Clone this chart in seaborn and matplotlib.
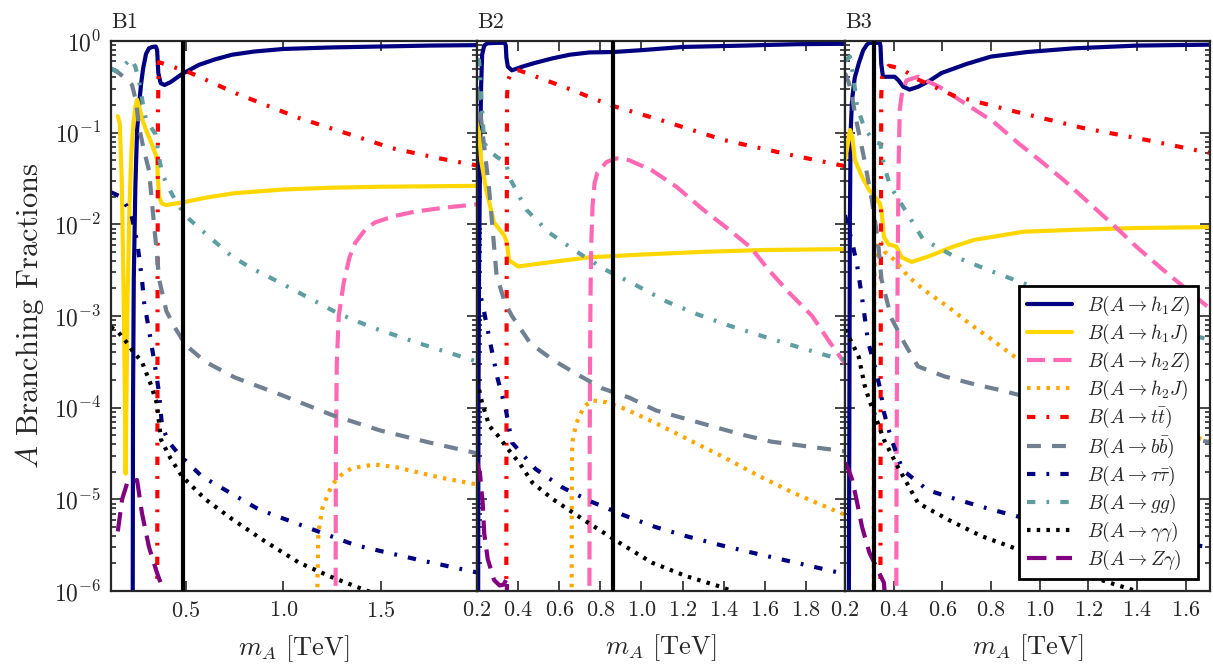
"""
Branching fractions of the pseudoscalar A for the three benchmarks B1, B2, B3
"""
import numpy as np
import matplotlib
matplotlib.use("Agg")
import matplotlib.pyplot as plt
from matplotlib.ticker import MultipleLocator, LogLocator, NullFormatter
import seaborn as sns

panels = ["B1", "B2", "B3"]
x_limits = [(0.115, 1.995), (0.2, 1.99), (0.2, 1.7)]
x_steps = [0.5, 0.2, 0.2]
benchmark_mass = [0.485, 0.863, 0.318]  # black vertical line in each panel

# Curves: (m_A [TeV], log10 of branching fraction)
# ---- B1 ----
b1_h1z = [(0.226, -7), (0.228, -4), (0.232, -2.6), (0.24, -1.6), (0.249, -0.97), (0.26, -0.68),
          (0.27, -0.46), (0.28, -0.3), (0.295, -0.14), (0.31, -0.08), (0.326, -0.065), (0.345, -0.06),
          (0.352, -0.1), (0.358, -0.35), (0.37, -0.46), (0.39, -0.48), (0.42, -0.45), (0.48, -0.36),
          (0.567, -0.26), (0.65, -0.2), (0.736, -0.15), (0.85, -0.115), (1.0, -0.087), (1.25, -0.07),
          (1.5, -0.06), (1.75, -0.05), (2.0, -0.045)]
b1_h1j = [(0.15, -0.82), (0.16, -0.9), (0.17, -1.5), (0.178, -2.5), (0.185, -3.6), (0.19, -4.72),
          (0.195, -3.8), (0.2, -2.8), (0.21, -1.8), (0.22, -1.2), (0.23, -0.9), (0.24, -0.72),
          (0.249, -0.64), (0.26, -0.72), (0.275, -0.85), (0.295, -0.97), (0.32, -1.1), (0.345, -1.24),
          (0.352, -1.3), (0.356, -1.5), (0.362, -1.7), (0.375, -1.77), (0.397, -1.79), (0.44, -1.775),
          (0.485, -1.76), (0.6, -1.71), (0.75, -1.66), (1.0, -1.62), (1.25, -1.6), (1.5, -1.59),
          (1.75, -1.585), (2.0, -1.58)]
b1_h2z = [(1.268, -7), (1.27, -4.5), (1.275, -3.5), (1.285, -3.0), (1.31, -2.64), (1.34, -2.36),
          (1.37, -2.2), (1.42, -2.06), (1.47, -1.98), (1.57, -1.91), (1.68, -1.86), (1.82, -1.82),
          (2.0, -1.78)]
b1_h2j = [(1.172, -7), (1.175, -6), (1.18, -5.37), (1.2, -5.1), (1.25, -4.84), (1.3, -4.73),
          (1.35, -4.66), (1.47, -4.62), (1.58, -4.65), (1.68, -4.7), (1.8, -4.76), (2.0, -4.84)]
b1_tt = [(0.352, -7), (0.354, -3), (0.356, -0.8), (0.36, -0.23), (0.515, -0.34), (0.756, -0.57),
         (1.08, -0.84), (1.3, -0.99), (1.56, -1.17), (1.8, -1.28), (2.0, -1.36)]
b1_bb = [(0.115, -0.3), (0.156, -0.35), (0.2, -0.43), (0.223, -0.48), (0.244, -0.66), (0.259, -0.94),
         (0.285, -1.2), (0.31, -1.41), (0.336, -2.0), (0.35, -2.3), (0.362, -2.6), (0.4, -2.95),
         (0.45, -3.15), (0.5, -3.32), (0.6, -3.5), (0.75, -3.67), (1.0, -3.87), (1.25, -4.08),
         (1.5, -4.25), (1.75, -4.38), (2.0, -4.5)]
b1_tautau = [(0.115, -1.65), (0.167, -1.7), (0.218, -1.88), (0.25, -2.2), (0.274, -2.6), (0.285, -2.85),
             (0.31, -3.15), (0.336, -3.48), (0.362, -3.84), (0.377, -4.2), (0.41, -4.37), (0.464, -4.51),
             (0.582, -4.75), (0.874, -5.11), (1.115, -5.3), (1.37, -5.5), (1.695, -5.66), (2.0, -5.8)]
b1_gg = [(0.115, -0.3), (0.156, -0.34), (0.19, -0.25), (0.218, -0.19), (0.24, -0.28), (0.26, -0.45),
         (0.28, -0.7), (0.295, -0.86), (0.345, -1.02), (0.36, -1.25), (0.377, -1.44), (0.41, -1.6),
         (0.454, -1.77), (0.505, -1.92), (0.567, -2.04), (0.736, -2.35), (0.838, -2.48), (0.987, -2.64),
         (1.28, -2.97), (1.45, -3.12), (1.7, -3.3), (2.0, -3.5)]
b1_gamgam = [(0.115, -3.12), (0.15, -3.17), (0.2, -3.3), (0.225, -3.38), (0.274, -3.5), (0.32, -3.75),
             (0.35, -3.95), (0.372, -4.35), (0.42, -4.55), (0.48, -4.75), (0.6, -5.0), (0.74, -5.22),
             (0.9, -5.45), (1.08, -5.69), (1.25, -5.85), (1.42, -5.99), (1.6, -6.12)]
b1_zgam = [(0.15, -5.35), (0.172, -5.0), (0.2, -4.81), (0.249, -4.79), (0.274, -5.15), (0.31, -5.52),
           (0.351, -5.8), (0.38, -5.97), (0.4, -6.1)]

# ---- B2 ----
b2_h1z = [(0.205, -7), (0.207, -4), (0.21, -2.5), (0.215, -1.2), (0.22, -0.5), (0.225, -0.15),
          (0.235, -0.05), (0.25, -0.025), (0.3, -0.02), (0.335, -0.02), (0.34, -0.05), (0.343, -0.18),
          (0.35, -0.28), (0.37, -0.32), (0.42, -0.28), (0.48, -0.24), (0.566, -0.19), (0.65, -0.15),
          (0.746, -0.125), (0.863, -0.12), (1.0, -0.1), (1.2, -0.065), (1.5, -0.05), (1.75, -0.035),
          (2.0, -0.03)]
b2_h1j = [(0.2, -0.9), (0.21, -1.0), (0.22, -1.3), (0.244, -1.62), (0.283, -1.98), (0.332, -2.12),
          (0.346, -2.2), (0.355, -2.39), (0.4, -2.46), (0.566, -2.41), (0.746, -2.36), (1.0, -2.33),
          (1.3, -2.3), (1.6, -2.28), (2.0, -2.27)]
b2_h2z = [(0.746, -7), (0.748, -4.5), (0.75, -3.5), (0.752, -2.8), (0.756, -2.2), (0.762, -1.8),
          (0.772, -1.55), (0.785, -1.44), (0.83, -1.32), (0.878, -1.28), (0.94, -1.3), (1.05, -1.41),
          (1.17, -1.59), (1.3, -1.84), (1.41, -2.03), (1.53, -2.25), (1.62, -2.5), (1.72, -2.75),
          (1.83, -3.0), (1.92, -3.3), (2.0, -3.55)]
b2_h2j = [(0.66, -7), (0.661, -5), (0.663, -4.38), (0.683, -4.17), (0.72, -3.99), (0.76, -3.92),
          (0.83, -3.94), (0.927, -4.02), (1.07, -4.17), (1.23, -4.35), (1.4, -4.54), (1.575, -4.75),
          (1.74, -4.93), (2.0, -5.18)]
b2_tt = [(0.342, -7), (0.344, -3), (0.346, -0.6), (0.352, -0.42), (0.37, -0.33), (0.405, -0.32),
         (0.488, -0.39), (0.634, -0.51), (0.78, -0.64), (0.863, -0.71), (1.09, -0.86), (1.4, -1.08),
         (1.72, -1.24), (2.0, -1.37)]
b2_bb = [(0.2, -0.5), (0.21, -0.65), (0.225, -0.95), (0.26, -1.64), (0.295, -2.55), (0.335, -2.85),
         (0.37, -3.0), (0.46, -3.3), (0.57, -3.48), (0.69, -3.64), (0.81, -3.79), (0.94, -3.89),
         (1.07, -4.03), (1.37, -4.22), (1.5, -4.3), (1.63, -4.37), (1.9, -4.45), (2.0, -4.48)]
b2_tautau = [(0.2, -2.6), (0.235, -2.96), (0.265, -3.3), (0.3, -3.68), (0.34, -4.02), (0.37, -4.38),
             (0.485, -4.67), (0.615, -4.87), (0.75, -5.02), (0.91, -5.17), (1.065, -5.3), (1.215, -5.4),
             (1.385, -5.5), (1.535, -5.58), (1.69, -5.66), (1.865, -5.75), (2.0, -5.82)]
b2_gg = [(0.2, -0.2), (0.21, -0.21), (0.22, -0.57), (0.235, -1.11), (0.26, -1.2), (0.3, -1.27),
         (0.34, -1.32), (0.36, -1.5), (0.44, -1.84), (0.55, -2.09), (0.686, -2.3), (0.82, -2.49),
         (0.97, -2.66), (1.12, -2.84), (1.27, -2.98), (1.42, -3.1), (1.56, -3.2), (1.72, -3.31),
         (1.9, -3.43), (2.0, -3.48)]
b2_gamgam = [(0.2, -3.7), (0.225, -3.95), (0.26, -4.2), (0.3, -4.3), (0.35, -4.45), (0.405, -4.6),
             (0.47, -4.82), (0.57, -5.0), (0.73, -5.24), (0.89, -5.47), (1.05, -5.69), (1.22, -5.84),
             (1.38, -5.95), (1.5, -6.05)]
b2_zgam = [(0.2, -4.6), (0.215, -4.73), (0.228, -5.05), (0.235, -5.37), (0.252, -5.65), (0.283, -5.88),
           (0.31, -5.94), (0.33, -5.93), (0.341, -5.88), (0.345, -5.85), (0.347, -6.5)]

# ---- B3 ----
b3_h1z = [(0.215, -7), (0.218, -4), (0.22, -2), (0.223, -1.0), (0.229, -0.64), (0.24, -0.4),
          (0.257, -0.24), (0.275, -0.1), (0.29, -0.04), (0.3, -0.02), (0.343, -0.02), (0.346, -0.06),
          (0.349, -0.25), (0.356, -0.39), (0.38, -0.39), (0.404, -0.39), (0.42, -0.43), (0.44, -0.5),
          (0.465, -0.53), (0.5, -0.5), (0.55, -0.43), (0.596, -0.35), (0.7, -0.25), (0.8, -0.17),
          (0.95, -0.12), (1.14, -0.08), (1.4, -0.05), (1.7, -0.04)]
b3_h1j = [(0.2, -1.3), (0.21, -1.15), (0.22, -0.97), (0.23, -1.05), (0.241, -1.3), (0.27, -1.48),
          (0.298, -1.62), (0.343, -1.77), (0.35, -1.85), (0.36, -2.14), (0.38, -2.22), (0.41, -2.24),
          (0.433, -2.36), (0.474, -2.41), (0.543, -2.35), (0.637, -2.25), (0.73, -2.17), (0.935, -2.08),
          (1.14, -2.06), (1.4, -2.04), (1.7, -2.03)]
b3_h2z = [(0.41, -7), (0.412, -4.5), (0.415, -3.0), (0.418, -2.0), (0.42, -1.4), (0.425, -0.75),
          (0.435, -0.55), (0.453, -0.43), (0.5, -0.39), (0.588, -0.5), (0.71, -0.71), (0.81, -0.88),
          (0.91, -1.11), (1.0, -1.3), (1.1, -1.52), (1.2, -1.76), (1.3, -2.0), (1.4, -2.25),
          (1.5, -2.48), (1.6, -2.7), (1.7, -2.92)]
b3_h2j = [(0.318, -7), (0.319, -3), (0.322, -2.4), (0.335, -2.18), (0.35, -2.2), (0.363, -2.3),
          (0.404, -2.39), (0.46, -2.57), (0.527, -2.72), (0.624, -2.9), (0.71, -3.08), (0.8, -3.25),
          (0.9, -3.45), (1.1, -3.75), (1.3, -4.0), (1.5, -4.2), (1.7, -4.37)]
b3_tt = [(0.345, -7), (0.347, -3), (0.349, -0.6), (0.352, -0.4), (0.38, -0.27), (0.43, -0.3),
         (0.5, -0.42), (0.65, -0.6), (0.9, -0.77), (1.18, -0.95), (1.44, -1.08), (1.64, -1.19),
         (1.7, -1.22)]
b3_bb = [(0.2, -0.35), (0.215, -0.45), (0.225, -0.55), (0.245, -0.85), (0.28, -1.3), (0.31, -1.73),
         (0.335, -2.17), (0.35, -2.6), (0.39, -3.02), (0.445, -3.3), (0.5, -3.55), (0.61, -3.66),
         (0.725, -3.74), (0.84, -3.81), (1.0, -3.92), (1.3, -4.12), (1.7, -4.38)]
b3_tautau = [(0.2, -1.9), (0.215, -2.05), (0.23, -2.2), (0.25, -2.45), (0.27, -2.8), (0.295, -3.28),
             (0.33, -3.63), (0.345, -3.8), (0.36, -4.05), (0.39, -4.34), (0.437, -4.68), (0.54, -4.9),
             (0.67, -5.01), (0.8, -5.11), (1.0, -5.25), (1.3, -5.4), (1.7, -5.52)]
b3_gg = [(0.2, -0.22), (0.22, -0.17), (0.235, -0.4), (0.25, -0.72), (0.28, -0.95), (0.32, -1.1),
         (0.345, -1.12), (0.36, -1.35), (0.385, -1.58), (0.43, -1.77), (0.52, -2.16), (0.6, -2.28),
         (0.65, -2.35), (0.79, -2.5), (0.92, -2.63), (1.1, -2.8), (1.3, -2.97), (1.5, -3.12),
         (1.7, -3.26)]
b3_gamgam = [(0.2, -3.15), (0.23, -3.3), (0.257, -3.45), (0.28, -3.75), (0.3, -3.92), (0.32, -4.06),
             (0.36, -4.35), (0.42, -4.66), (0.5, -5.04), (0.63, -5.23), (0.76, -5.4), (0.894, -5.53),
             (1.1, -5.75), (1.3, -5.92), (1.42, -6.02), (1.55, -6.12)]
b3_zgam = [(0.2, -4.6), (0.215, -4.68), (0.23, -4.79), (0.247, -5.0), (0.27, -5.3), (0.3, -5.58),
           (0.34, -5.8), (0.36, -5.91), (0.37, -6.3)]

labels = [r"$B(A\rightarrow h_1Z)$", r"$B(A\rightarrow h_1J)$", r"$B(A\rightarrow h_2Z)$",
          r"$B(A\rightarrow h_2J)$", r"$B(A\rightarrow t\bar{t})$", r"$B(A\rightarrow b\bar{b})$",
          r"$B(A\rightarrow \tau\bar{\tau})$", r"$B(A\rightarrow gg)$",
          r"$B(A\rightarrow \gamma\gamma)$", r"$B(A\rightarrow Z\gamma)$"]
colors = ["navy", "gold", "hotpink", "orange", "red", "slategray", "navy", "cadetblue", "black", "purple"]
dashdot = (0, (6, 8, 2, 8))
dotted = (0, (2.5, 4.5))
styles = ["-", "-", (0, (13, 6)), dotted, dashdot, (0, (10, 8)), dashdot, dashdot, dotted, (0, (14, 7))]

curves = [
    [b1_h1z, b1_h1j, b1_h2z, b1_h2j, b1_tt, b1_bb, b1_tautau, b1_gg, b1_gamgam, b1_zgam],
    [b2_h1z, b2_h1j, b2_h2z, b2_h2j, b2_tt, b2_bb, b2_tautau, b2_gg, b2_gamgam, b2_zgam],
    [b3_h1z, b3_h1j, b3_h2z, b3_h2j, b3_tt, b3_bb, b3_tautau, b3_gg, b3_gamgam, b3_zgam],
]

sns.set_style("ticks")
plt.rcParams["font.family"] = ["serif"]
plt.rcParams["font.serif"] = ["cmr10", "DejaVu Serif"]
plt.rcParams["mathtext.fontset"] = "cm"
plt.rcParams["axes.formatter.use_mathtext"] = True
plt.rcParams["lines.scale_dashes"] = False

W, H = 1213, 664
fig = plt.figure(figsize=(W / 100, H / 100), dpi=100)
left_px = [111, 477, 845]
right_px = [477, 845, 1210]
top_px, bottom_px = 41, 591

for i, name in enumerate(panels):
    ax = fig.add_axes([left_px[i] / W, 1 - bottom_px / H,
                       (right_px[i] - left_px[i]) / W, (bottom_px - top_px) / H])
    ax.set_yscale("log")
    for pts, label, color, style in zip(curves[i], labels, colors, styles):
        pts = np.array(pts)
        sns.lineplot(x=pts[:, 0], y=10 ** pts[:, 1], ax=ax, color=color, lw=3, linestyle=style,
                     estimator=None, sort=False, label=label, legend=False)
    ax.axvline(benchmark_mass[i], color="black", lw=3, zorder=5)

    ax.set_xlim(*x_limits[i])
    ax.set_ylim(1e-6, 1)
    ax.xaxis.set_major_locator(MultipleLocator(x_steps[i]))
    ax.yaxis.set_major_locator(LogLocator(base=10, numticks=10))
    ax.yaxis.set_minor_locator(LogLocator(base=10, subs=np.arange(2, 10), numticks=100))
    ax.yaxis.set_minor_formatter(NullFormatter())
    ax.tick_params(which="both", direction="in", top=True, right=True, width=1.2)
    ax.tick_params(which="major", length=7, pad=7)
    ax.tick_params(axis="x", which="major", labelsize=16)
    ax.tick_params(axis="y", which="major", labelsize=17)
    ax.tick_params(which="minor", length=3.5)
    for spine in ax.spines.values():
        spine.set_linewidth(1.6)
    if i > 0:
        ax.tick_params(labelleft=False)
    else:
        ax.set_ylabel(r"$A$ Branching Fractions", fontsize=22, labelpad=6)
    ax.set_xlabel(r"$m_A$ [TeV]", fontsize=19, labelpad=9)
    ax.set_title(name, loc="left", fontsize=16, pad=9)

    if i == 2:
        leg = ax.legend(loc="lower right", fontsize=14, fancybox=False, framealpha=1,
                        edgecolor="black", handlelength=2.3, labelspacing=0.2,
                        borderaxespad=0.6)
        leg.get_frame().set_linewidth(2)

fig.savefig("out.png", dpi=100)
